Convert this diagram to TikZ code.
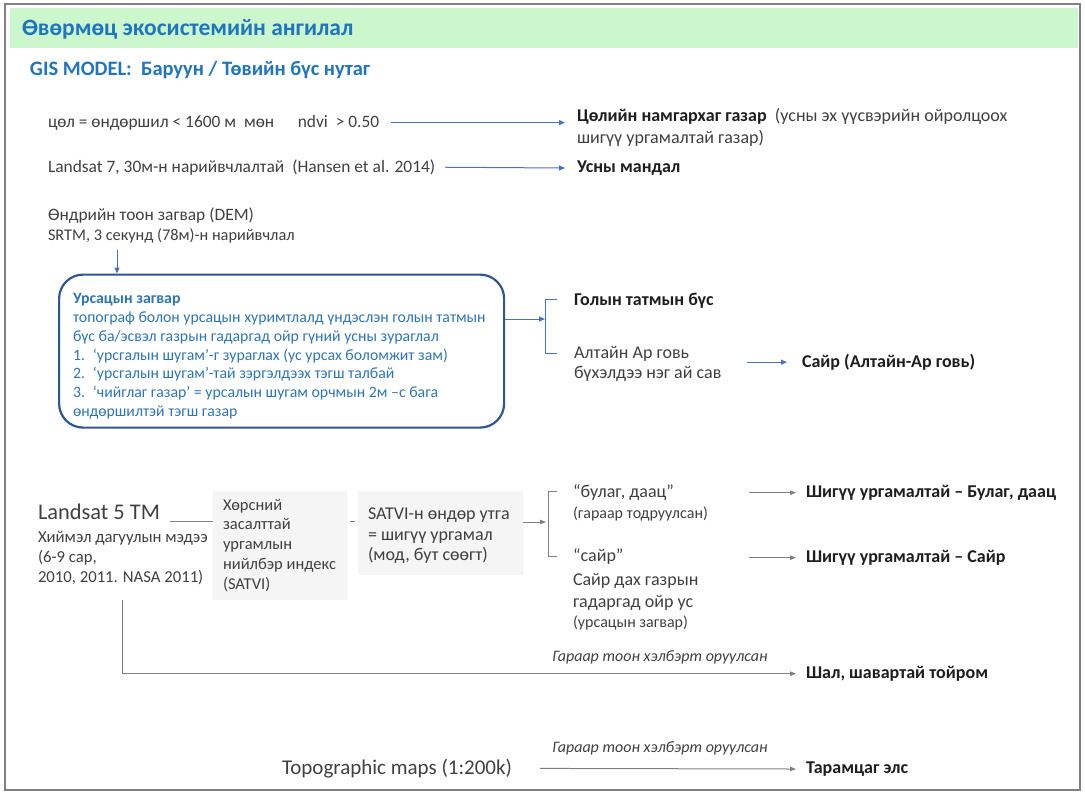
\documentclass[tikz,border=0pt]{standalone}
\usepackage{fontspec}
\setmainfont{Carlito}
\usetikzlibrary{arrows.meta,calc}
\definecolor{framegray}{RGB}{128,128,128}
\definecolor{titlegreen}{RGB}{204,247,204}
\definecolor{titleblue}{RGB}{31,117,190}
\definecolor{boxblue}{RGB}{46,117,182}
\definecolor{boxline}{RGB}{47,85,151}
\definecolor{arrblue}{RGB}{68,114,196}
\definecolor{txt}{RGB}{64,64,64}
\definecolor{txtb}{RGB}{30,30,30}
\definecolor{arrgray}{RGB}{128,128,128}
\definecolor{boxfill}{RGB}{245,245,245}
\newcommand\fsz[2]{\fontsize{#1}{#2}\selectfont}
\tikzset{
  lbl/.style={inner sep=0pt, outer sep=0pt, anchor=base west, text=txt, font=\fsz{17.4}{20}},
  ml/.style={inner sep=0pt, outer sep=0pt, anchor=north west, align=left, text=txt},
  tgt/.style={lbl, text=txtb, font=\fsz{18}{22}\bfseries},
  barr/.style={draw=arrblue, line width=1pt, -{Triangle[length=6pt,width=5pt]}},
  garr/.style={draw=arrgray, line width=1pt, -{Triangle[length=6pt,width=4.5pt]}},
  bline/.style={draw=arrblue, line width=1pt},
  gline/.style={draw=arrgray, line width=1pt},
  graybox/.style={draw=none, fill=boxfill, inner sep=0pt, outer sep=0pt, anchor=north west},
  note/.style={inner sep=0pt, outer sep=0pt, anchor=base, text=txt, font=\fsz{16}{18}\itshape}
}
\begin{document}
\begin{tikzpicture}[x=1pt,y=-1pt]
\useasboundingbox (0,0) rectangle (1085,792);
\fill[titlegreen] (10,8) rectangle (1078,48);
\draw[framegray, line width=2pt] (5,4) rectangle (1080,790);

\node[lbl, text=titleblue, font=\fsz{23.5}{28}\bfseries] (title) at (22,36) {Өвөрмөц экосистемийн ангилал};
\node[lbl, text=titleblue, font=\fsz{20.5}{24}\bfseries] (sub) at (30,75.2) {GIS MODEL:\ \ Баруун / Төвийн бүс нутаг};

% row 1
\node[lbl] (r1src) at (48,127.2) {цөл = өндөршил < 1600 м\ \ мөн\ \ \ \ \ \ ndvi\ \ > 0.50};
\node[ml, font=\fsz{18}{22}] (r1tgt) at (577,108.7) {{\bfseries\color{txtb}Цөлийн намгархаг газар}\ \ (усны эх үүсвэрийн ойролцоох\\шигүү ургамалтай газар)};
\draw[barr] ($(r1src.east)+(12,0)$) -- ($(r1tgt.north west |- r1src.east)+(-12,0)$);

% row 2
\node[lbl] (r2src) at (48,172.2) {Landsat 7, 30м-н нарийвчлалтай\ \ (Hansen et al. 2014)};
\node[tgt] (r2tgt) at (577,172.4) {Усны мандал};
\draw[barr] ($(r2src.east)+(10,0)$) -- ($(r2tgt.west)+(-12,0)$);

% DEM
\node[lbl] (dem) at (48,220.2) {Өндрийн тоон загвар (DEM)};
\node[lbl, font=\fsz{16.3}{19}] (srtm) at (48,240.9) {SRTM, 3 секунд (78м)-н нарийвчлал};

% flow model box
\node[draw=boxline, line width=2.2pt, rounded corners=24pt, minimum width=445pt, minimum height=153pt, inner sep=0pt, anchor=north west] (flow) at (58,273.5) {};
\coordinate (flowin) at ($(flow.north west)+(59,0)$);
\draw[barr] ($(flowin |- srtm.south)+(0,6)$) -- (flowin);
\node[ml, text=boxblue, font=\fsz{15.8}{18.8}] (flowtxt) at (73,293.5) {{\bfseries Урсацын загвар}\\
топограф болон урсацын хуримтлалд үндэслэн голын татмын\\
бүс ба/эсвэл газрын гадаргад ойр гүний усны зураглал\\
\makebox[20pt][l]{1.}‘урсгалын шугам’-г зураглах (ус урсах боломжит зам)\\
\makebox[20pt][l]{2.}‘урсгалын шугам’-тай зэргэлдээх тэгш талбай\\
\makebox[20pt][l]{3.}‘чийглаг газар’ = урсалын шугам орчмын 2м –с бага\\
өндөршилтэй тэгш газар};

% bracket 1
\coordinate (b1top) at (557,299);
\coordinate (b1bot) at (557,353);
\coordinate (b1mid) at (545,319);
\draw[bline] (b1top) -- ++(-12,0) -- ($(b1bot)+(-12,0)$) -- (b1bot);
\draw[barr] (flow.east |- b1mid) -- (b1mid);
\node[tgt] (golyn) at (574,305.4) {Голын татмын бүс};
\node[ml, font=\fsz{18}{20}] (altai) at (574,346.7) {Алтайн Ар говь\\бүхэлдээ нэг ай сав};
\node[tgt] (sair1) at (802,367.4) {Сайр (Алтайн-Ар говь)};
\draw[barr] ($(sair1.west)+(-55,0)$) -- ($(sair1.west)+(-15,0)$);

% Landsat 5
\node[lbl, font=\fsz{22.4}{26}] (l5) at (38,519.7) {Landsat 5 TM};
\node[ml, font=\fsz{16.7}{20}] (l5d) at (38,531) {Хиймэл дагуулын мэдээ\\(6-9 сар,\\2010, 2011. NASA 2011)};

\node[graybox, minimum width=134pt, minimum height=109pt] (sat1) at (213,491) {};
\node[ml, font=\fsz{16.5}{19.8}] (sat1t) at (223,499) {Хөрсний\\засалттай\\ургамлын\\нийлбэр индекс\\(SATVI)};
\node[graybox, minimum width=165pt, minimum height=84pt] (sat2) at (358,491) {};
\node[ml, font=\fsz{18}{20.5}] (sat2t) at (368,508) {SATVI-н өндөр утга\\= шигүү ургамал\\(мод, бут сөөгт)};

\coordinate (lk) at (0,521);
\draw[gline] ($(l5.east |- lk)+(10,0)$) -- (sat1.west |- lk);
\draw[gline] ($(sat1.east |- lk)+(3,0)$) -- ($(sat2.west |- lk)+(-3,0)$);

% bracket 2
\coordinate (b2top) at (557,491);
\coordinate (b2bot) at (557,556);
\coordinate (b2mid) at (548,522);
\draw[gline] (b2top) -- ++(-9,0) -- ($(b2bot)+(-9,0)$) -- (b2bot);
\draw[garr] (sat2.east |- b2mid) -- ($(b2mid)+(-2,0)$);

\node[lbl, font=\fsz{18}{22}] (bul) at (573,497.4) {“булаг, даац”};
\node[lbl, font=\fsz{16}{18}] (bul2) at (573,518.8) {(гараар тодруулсан)};
\node[lbl, font=\fsz{18}{22}] (sairq) at (573,561.4) {“сайр”};
\node[ml, font=\fsz{18}{22}] (sairb) at (573,573.5) {Сайр дах газрын\\гадаргад ойр ус};
\node[lbl, font=\fsz{16}{18}] (sairc) at (573,627.5) {(урсацын загвар)};

\node[tgt] (tbul) at (806,497.4) {Шигүү ургамалтай – Булаг, даац};
\node[tgt] (tsair) at (806,562.4) {Шигүү ургамалтай – Сайр};
\draw[garr] ($(tbul.west)+(-57,0)$) -- ($(tbul.west)+(-10,0)$);
\draw[garr] ($(tsair.west)+(-57,0)$) -- ($(tsair.west)+(-10,0)$);

% manual digitising
\node[tgt] (shal) at (806,678.4) {Шал, шавартай тойром};
\coordinate (l5down) at (122,600);
\draw[garr] (l5down) -- (l5down |- shal.west) -- ($(shal.west)+(-10,0)$);
\node[note] (note1) at (660,661.8) {Гараар тоон хэлбэрт оруулсан};

\node[lbl, font=\fsz{21}{24}] (topo) at (282,774.3) {Topographic maps (1:200k)};
\node[tgt] (taram) at (806,773.4) {Тарамцаг элс};
\draw[garr] ($(topo.east)+(28,0)$) -- ($(taram.west)+(-10,0)$);
\node[note] (note2) at (660,752.8) {Гараар тоон хэлбэрт оруулсан};
\end{tikzpicture}
\end{document}
